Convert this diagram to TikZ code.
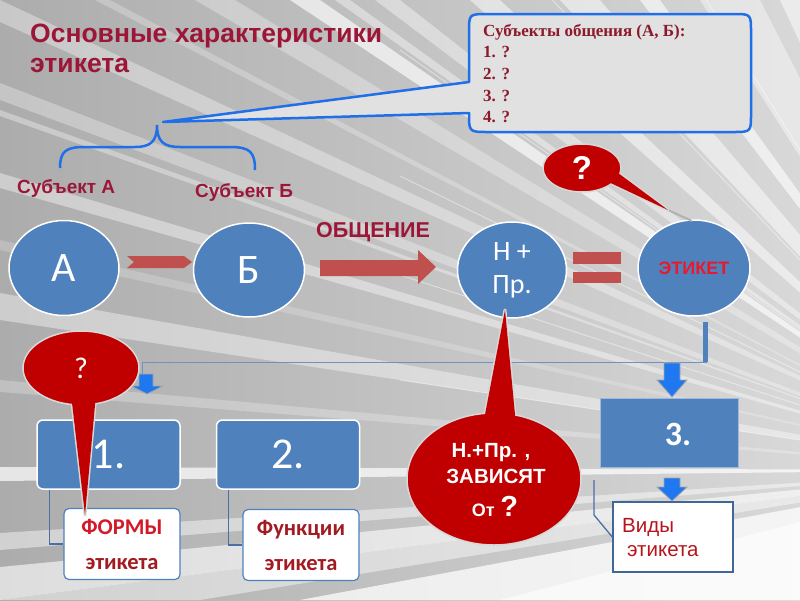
\documentclass[tikz,border=0pt]{standalone}
\usepackage{fontspec}
\setmainfont{Liberation Sans}
\newfontfamily\carl{Carlito}
\newfontfamily\tms{Liberation Serif}
\usetikzlibrary{shapes.geometric}
\definecolor{bgl}{HTML}{ACACAC}
\definecolor{bgr}{HTML}{D8D8D8}
\definecolor{maroonA}{HTML}{9C1637}
\definecolor{tmsred}{HTML}{8B1B2C}
\definecolor{cblue}{HTML}{4F81BD}
\definecolor{lblue}{HTML}{1E6FE8}
\definecolor{arrblue}{HTML}{1F78F0}
\definecolor{arrred}{HTML}{C0504D}
\definecolor{calred}{HTML}{C00000}
\definecolor{caloutl}{HTML}{D8D8D8}
\definecolor{txtred}{HTML}{E8192C}
\definecolor{formred}{HTML}{D21A2A}
\definecolor{subred}{HTML}{A31B22}
\definecolor{vred}{HTML}{B8141C}
\definecolor{thinline}{HTML}{7391BE}
\definecolor{connblue}{HTML}{4A6FA5}
\definecolor{callfill}{HTML}{E1E1E1}
\newcommand\blkdown[4]{%
  \filldraw[fill=arrblue, draw=gray!70, line width=0.8pt]
  (#1-8,#2) -- (#1+8,#2) -- (#1+8,#3) -- (#1+15,#3) -- (#1,#4) -- (#1-15,#3) -- (#1-8,#3) -- cycle;}
\begin{document}
\begin{tikzpicture}[x=1pt,y=-1pt,
  titlefont/.style={font=\bfseries\fontsize{26.5}{30}\selectfont, text=maroonA, inner sep=0pt},
  subj/.style={font=\bfseries\fontsize{19}{20}\selectfont, text=maroonA, inner sep=0pt},
  ctext/.style={font=\tms\bfseries\fontsize{17}{18}\selectfont, text=tmsred, inner sep=0pt},
  circ/.style={ellipse, fill=cblue, draw=white, line width=1.5pt, inner sep=0pt, text=white},
  bbox/.style={rectangle, rounded corners=6pt, fill=cblue, draw=white, line width=1.5pt,
     minimum width=143pt, minimum height=69pt, inner sep=0pt, text=white,
     font=\carl\fontsize{44}{44}\selectfont},
  sbox/.style={rectangle, rounded corners=5pt, fill=white, draw=cblue, line width=1.2pt,
     minimum width=116pt, minimum height=71pt, inner sep=0pt, align=center, text=subred,
     font=\carl\bfseries\fontsize{22.5}{35}\selectfont},
  conn/.style={draw=connblue, line width=1.3pt},
  rt/.style={font=\bfseries\fontsize{20.5}{24}\selectfont, text=white, inner sep=0pt},
  redcall/.style={ellipse, fill=calred, draw=caloutl, line width=1.5pt, inner sep=0pt, text=white},
  tailout/.style={fill=calred, draw=caloutl, line width=3pt, line join=round},
  vtext/.style={font=\fontsize{20.5}{22}\selectfont, text=vred, inner sep=0pt}
]
\useasboundingbox (0,0) rectangle (800,600);
% ---------- background
\begin{scope}
\clip (0,0) rectangle (800,600);
\shade[left color=bgl, right color=bgr] (0,0) rectangle (800,600);
\coordinate (V) at (1000,470);
\foreach \ya/\yb/\o in {0/22/0.35, 83/100/0.3, 110/116/0.35, 173/188/0.4, 240/250/0.2, 293/320/0.4,
   380/392/0.25, 467/481/0.7, 533/550/0.45, 567/600/0.6}
  \fill[white, opacity=\o] (V) -- (0,\ya) -- (0,\yb) -- cycle;
\foreach \xa/\xb/\o in {95/110/0.25, 195/235/0.3, 290/320/0.65, 335/350/0.4, 375/400/0.4,
   470/500/0.5, 560/600/0.5, 640/660/0.6, 700/760/0.4, 780/800/0.5}
  \fill[white, opacity=\o] (V) -- (\xa,0) -- (\xb,0) -- cycle;
\foreach \xa/\xb/\o in {0/200/0.45, 300/800/0.75, 500/800/0.6}
  \fill[white, opacity=\o] (V) -- (\xa,600) -- (\xb,600) -- cycle;
\foreach \y in {150,260,330,372,405,440}
  \draw[white, opacity=0.45, line width=0.9pt] (V) -- (400,3*\y-940);
\end{scope}
% ---------- title
\node[titlefont, anchor=base west] (t1) at (30,42) {Основные характеристики};
\node[titlefont, anchor=base west] (t2) at (30,72) {этикета};
% ---------- callout with brace
\coordinate (ctip) at (163,122);
\filldraw[fill=callfill, draw=lblue, line width=2.5pt, line join=round]
  (488,14) -- (733,14) .. controls (751,14) .. (751,32) -- (751,114)
  .. controls (751,132) .. (733,132) -- (488,132) .. controls (469,132) .. (469,113)
  -- (ctip) -- (469,82) -- (469,32) .. controls (469,14) .. (488,14) -- cycle;
\node[ctext, anchor=base west] (c0) at (483,36) {Субъекты общения (А, Б):};
\node[ctext, anchor=base west] (c1) at (483,57) {1. ?};
\node[ctext, anchor=base west] (c2) at (483,79) {2. ?};
\node[ctext, anchor=base west] (c3) at (483,101) {3. ?};
\node[ctext, anchor=base west] (c4) at (483,122) {4. ?};
\coordinate (bcusp) at (157,125);
\draw[lblue, line width=2.5pt] (60,168) .. controls (60,151) and (66,147) .. (85,147) -- (135,147)
  .. controls (151,147) and (157,141) .. (bcusp) .. controls (157,141) and (163,147) .. (180,147)
  -- (230,147) .. controls (250,147) and (255,152) .. (255,170);
\node[subj, anchor=base west] (sA) at (17,193) {Субъект А};
\node[subj, anchor=base west] (sB) at (195,197) {Субъект Б};
\node[subj, font=\bfseries\fontsize{21.5}{22}\selectfont, anchor=base west] (obsh) at (316,237) {ОБЩЕНИЕ};
% ---------- circles
\node[circ, minimum width=110pt, minimum height=95pt, font=\carl\fontsize{42}{42}\selectfont] (A) at (64,268) {А};
\node[circ, minimum width=111pt, minimum height=94pt, font=\carl\fontsize{42}{42}\selectfont] (B) at (249,270) {Б};
\node[circ, minimum width=109pt, minimum height=96pt, align=center, font=\carl\fontsize{28}{33}\selectfont] (NP) at (512,270) {Н +\\Пр.};
\node[circ, minimum width=112pt, minimum height=96pt, text=txtred, font=\bfseries\fontsize{18}{18}\selectfont] (E) at (694,268) {ЭТИКЕТ};
% ---------- red arrows
\fill[arrred] (127,256) -- (184,256) -- (192,262) -- (184,268) -- (127,268) -- (134,262) -- cycle;
\fill[arrred] (320,260) -- (418,260) -- (418,250) -- (436,267) -- (418,284) -- (418,276) -- (320,276) -- cycle;
\fill[arrred] (573,252) rectangle (621,264);
\fill[arrred] (573,272) rectangle (621,283);
% ---------- connectors from ETIKET
\coordinate (eb) at (705,322);
\coordinate (ec) at (705,362);
\coordinate (lc) at (142,362);
\draw[cblue, line width=5pt] (eb) -- (ec);
\draw[thinline, line width=1pt] (707,362) -- (lc) -- (142,378);
\filldraw[fill=arrblue, draw=gray!70, line width=0.8pt] (139,374) -- (153,374) -- (153,386) -- (163,386) -- (147,394) -- (131,386) -- (139,386) -- cycle;
\blkdown{672}{363}{380}{397}
\blkdown{672}{478}{487}{501}
% ---------- box 3 and Vidy
\node[rectangle, fill=cblue, draw=cblue!55!white, line width=1pt, minimum width=138pt, minimum height=69pt, inner sep=0pt] (b3) at (669,432.5) {};
\node[font=\carl\bfseries\fontsize{34}{34}\selectfont, text=white, inner sep=0pt] (t3) at (678,434) {3.};
\node[rectangle, fill=white, draw=cblue!80!black, line width=1.5pt, minimum width=120pt, minimum height=70pt, inner sep=0pt] (vb) at (673,537) {};
\node[vtext, anchor=base west] (v1) at (622,532) {Виды};
\node[vtext, anchor=base west] (v2) at (627,556) {этикета};
\coordinate (vtop) at (594,480);
\draw[conn] (vtop) -- (594,515) -- (vb.west);
% ---------- boxes 1, 2
\node[bbox] (b1) at (108.5,454.5) {1.};
\node[bbox] (b2) at (288,454.5) {2.};
\node[sbox] (s1) at (122,544) {\textcolor{formred}{ФОРМЫ}\\этикета};
\node[sbox] (s2) at (301,545) {Функции\\этикета};
\draw[conn] (b1.south west) ++(13,0) |- (s1.west);
\draw[conn] (b2.south west) ++(13,0) |- (s2.west);
% ---------- red callouts
% top
\coordinate (qTtip) at (668,210);
\draw[gray!60, line width=2pt] (qTtip) -- (692,221);
\filldraw[tailout] (600,178) -- (qTtip) -- (614,170) -- cycle;
\node[redcall, minimum width=78pt, minimum height=48pt, font=\bfseries\fontsize{33}{34}\selectfont] (qT) at (582,168) {?};
\fill[calred] (600,178) -- (qTtip) -- (614,170) -- cycle;
% left
\coordinate (qLtip) at (85,515);
\filldraw[tailout] (71,394) -- (qLtip) -- (96,394) -- cycle;
\node[redcall, minimum width=116pt, minimum height=74pt, font=\carl\fontsize{30}{30}\selectfont] (qL) at (81,368) {?};
\fill[calred] (71,394) -- (qLtip) -- (96,394) -- cycle;
% big
\coordinate (qBtip) at (505,310);
\filldraw[tailout] (483,425) -- (qBtip) -- (516,425) -- cycle;
\node[redcall, minimum width=174pt, minimum height=132pt] (qB) at (494,479) {};
\fill[calred] (483,425) -- (qBtip) -- (516,425) -- cycle;
\node[rt, anchor=base] (r1) at (491,457) {Н.+Пр. ,};
\node[rt, anchor=base] (r2) at (496,483) {ЗАВИСЯТ};
\node[rt, anchor=base] (r3) at (495,516) {{\fontsize{18}{20}\selectfont От} {\fontsize{29}{30}\selectfont ?}};
\end{tikzpicture}
\end{document}
